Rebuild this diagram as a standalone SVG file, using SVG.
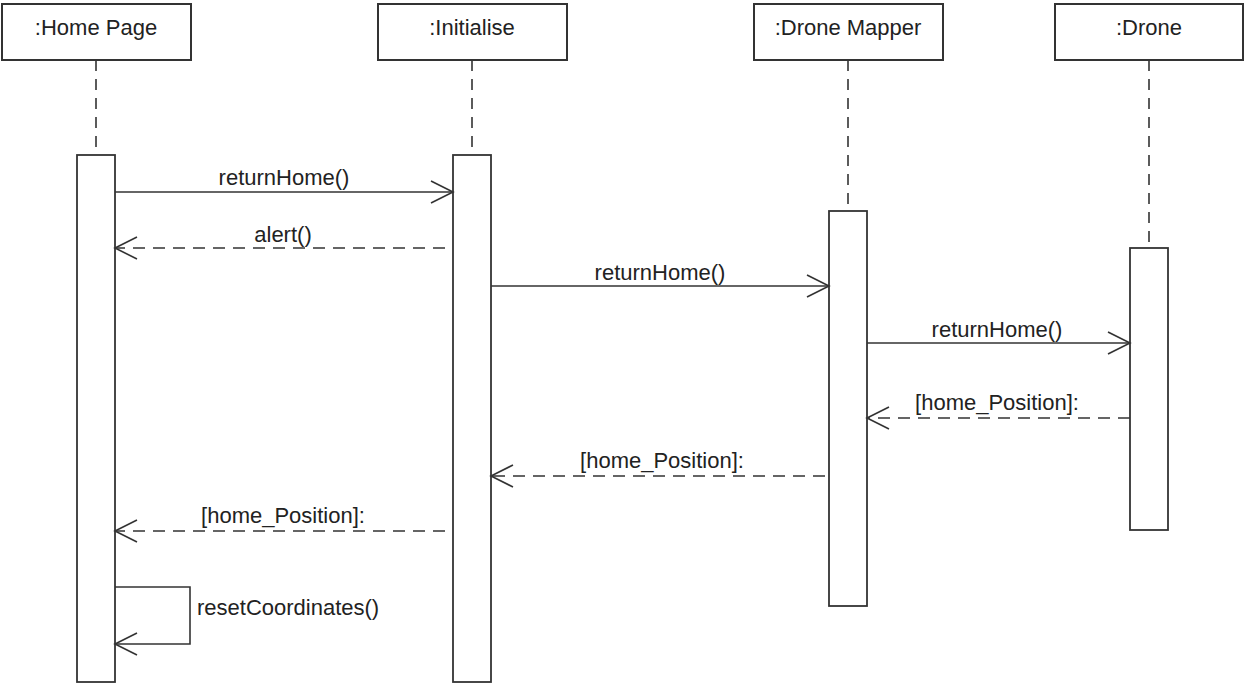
<svg xmlns="http://www.w3.org/2000/svg" width="1245" height="685" viewBox="0 0 1245 685">
  <style>
    .head { fill: #ffffff; stroke: #333333; stroke-width: 2; }
    .bar { fill: #ffffff; stroke: #333333; stroke-width: 1.8; }
    .life { stroke: #333333; stroke-width: 1.6; stroke-dasharray: 11 8; fill: none; }
    .txt { font-family: "Liberation Sans", Arial, sans-serif; font-size: 22px; fill: #222222; }
    .mid { text-anchor: middle; }
    .call { stroke: #333333; stroke-width: 1.6; fill: none; marker-end: url(#open); }
    .reply { stroke: #333333; stroke-width: 1.6; fill: none; stroke-dasharray: 12 8; marker-end: url(#open); }
  </style>
  <defs>
    <marker id="open" markerUnits="userSpaceOnUse" markerWidth="26" markerHeight="26" viewBox="-24 -13 26 26" refX="0" refY="0" orient="auto">
      <path d="M-22,-11 L0,0 L-22,11" fill="none" stroke="#333333" stroke-width="1.6"/>
    </marker>
  </defs>
  <rect width="1245" height="685" fill="#ffffff"/>

  <g id="home-page">
    <line class="life" x1="96" y1="60" x2="96" y2="155"/>
    <rect class="head" x="2" y="4" width="189" height="56"/>
    <text class="txt mid" x="96" y="35">:Home Page</text>
    <rect class="bar" x="77" y="155" width="38" height="527"/>
  </g>

  <g id="initialise">
    <line class="life" x1="472" y1="60" x2="472" y2="155"/>
    <rect class="head" x="378" y="4" width="189" height="56"/>
    <text class="txt mid" x="472" y="35">:Initialise</text>
    <rect class="bar" x="453" y="155" width="38" height="527"/>
  </g>

  <g id="drone-mapper">
    <line class="life" x1="848" y1="60" x2="848" y2="211"/>
    <rect class="head" x="754" y="4" width="189" height="56"/>
    <text class="txt mid" x="848" y="35">:Drone Mapper</text>
    <rect class="bar" x="829" y="211" width="38" height="395"/>
  </g>

  <g id="drone">
    <line class="life" x1="1149" y1="60" x2="1149" y2="248"/>
    <rect class="head" x="1055" y="4" width="188" height="56"/>
    <text class="txt mid" x="1149" y="35">:Drone</text>
    <rect class="bar" x="1130" y="248" width="38" height="282"/>
  </g>

  <g id="connectors">
    <line class="call" x1="115" y1="192" x2="453" y2="192"/>
    <text class="txt mid" x="284" y="185">returnHome()</text>

    <line class="reply" x1="445" y1="248" x2="115" y2="248"/>
    <text class="txt mid" x="283" y="242">alert()</text>

    <line class="call" x1="491" y1="286" x2="829" y2="286"/>
    <text class="txt mid" x="660" y="280">returnHome()</text>

    <line class="call" x1="867" y1="343" x2="1130" y2="343"/>
    <text class="txt mid" x="997" y="337">returnHome()</text>

    <line class="reply" x1="1130" y1="418" x2="867" y2="418"/>
    <text class="txt mid" x="997" y="410">[home_Position]:</text>

    <line class="reply" x1="825" y1="476" x2="491" y2="476"/>
    <text class="txt mid" x="662" y="468">[home_Position]:</text>

    <line class="reply" x1="445" y1="531" x2="115" y2="531"/>
    <text class="txt mid" x="283" y="523">[home_Position]:</text>

    <path class="call" d="M115,587 L190,587 L190,644 L115,644"/>
    <text class="txt" x="197" y="615">resetCoordinates()</text>
  </g>
</svg>
